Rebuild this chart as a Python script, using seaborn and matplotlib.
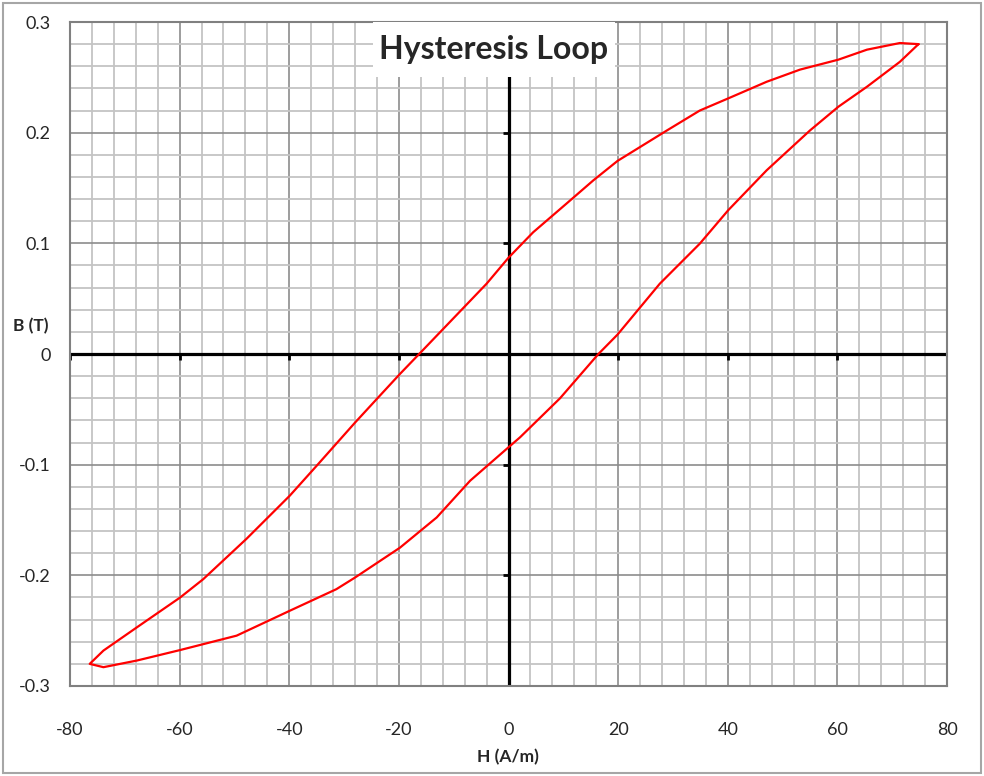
import matplotlib
matplotlib.use("Agg")
import matplotlib.pyplot as plt
import matplotlib.patches as patches
import numpy as np
import pandas as pd
import seaborn as sns

# upper branch: from the positive tip back to the negative tip
H_upper = [74.8, 71.4, 65.4, 60.2, 53.2, 47.1, 40.1, 34.9, 28.9, 19.9, 15.5, 10.6,
           4.5, 0.0, -4.0, -10.1, -16.3, -19.8, -24.0, -28.0, -35.0, -39.9, -47.8,
           -55.7, -59.9, -67.8, -73.9, -76.4]
B_upper = [0.280, 0.281, 0.275, 0.266, 0.257, 0.246, 0.231, 0.220, 0.202, 0.1745,
           0.157, 0.136, 0.110, 0.087, 0.0635, 0.032, 0.0, -0.018, -0.0405, -0.062,
           -0.101, -0.128, -0.167, -0.2035, -0.220, -0.247, -0.268, -0.280]

# lower branch: from the negative tip up to the positive tip
H_lower = [-76.4, -73.9, -67.8, -59.9, -49.6, -39.9, -31.4, -28.0, -19.8, -13.1,
           -7.0, 0.0, 2.1, 9.4, 16.4, 19.9, 27.6, 34.9, 40.1, 47.1, 55.0, 60.2,
           65.4, 71.4, 74.8]
B_lower = [-0.280, -0.283, -0.277, -0.2675, -0.2545, -0.232, -0.2125, -0.202,
           -0.175, -0.1477, -0.1145, -0.0843, -0.0753, -0.040, 0.0, 0.0176, 0.0635,
           0.0997, 0.130, 0.166, 0.202, 0.2235, 0.2415, 0.264, 0.280]

x_ticks = [-80, -60, -40, -20, 0, 20, 40, 60, 80]
x_labels = ["-80", "-60", "-40", "-20", "0", "20", "40", "60", "80"]
y_ticks = [-0.3, -0.2, -0.1, 0.0, 0.1, 0.2, 0.3]
y_labels = ["-0.3", "-0.2", "-0.1", "0", "0.1", "0.2", "0.3"]

loop = pd.DataFrame({"H": H_upper + H_lower[1:], "B": B_upper + B_lower[1:]})

sns.set_style("white")
plt.rcParams["font.family"] = ["Lato", "DejaVu Sans"]

fig = plt.figure(figsize=(9.84, 7.76), dpi=100)
ax = fig.add_axes([70 / 984, 90 / 776, 877 / 984, 664 / 776])

ax.set_xlim(-80, 80)
ax.set_ylim(-0.3, 0.3)
ax.set_xticks(x_ticks)
ax.set_xticklabels(x_labels)
ax.set_yticks(y_ticks)
ax.set_yticklabels(y_labels)
ax.set_xticks(np.arange(-80, 81, 4), minor=True)
ax.set_yticks(np.arange(-0.3, 0.301, 0.02), minor=True)
ax.grid(which="minor", color="#c4c4c4", lw=1.3, zorder=0)
ax.grid(which="major", color="#8c8c8c", lw=1.2, zorder=0)
ax.set_axisbelow(True)
ax.tick_params(which="both", length=0)
ax.tick_params(axis="y", pad=14, labelsize=13)
ax.tick_params(axis="x", pad=26, labelsize=13)
for s in ax.spines.values():
    s.set_color("#808080")
    s.set_linewidth(1.5)

# black axes through the origin with their little tick marks
ax.axhline(0, color="black", lw=2.3, zorder=2)
ax.axvline(0, color="black", lw=2.3, zorder=2)
ax.plot(x_ticks[:-1], [0] * (len(x_ticks) - 1), ls="none", marker=3,
        ms=4, mew=2, color="black", zorder=2)
ax.plot([0] * len(y_ticks[:-1]), y_ticks[:-1], ls="none", marker=0,
        ms=4, mew=2, color="black", zorder=2)

sns.lineplot(data=loop, x="H", y="B", sort=False, estimator=None,
             color="red", lw=1.6, ax=ax, zorder=3)
ax.set_xlabel("")
ax.set_ylabel("")

# title on its own white box, covering the grid
ax.add_patch(patches.Rectangle((0.3455, 0.917), 0.276, 0.083, transform=ax.transAxes,
                               facecolor="white", edgecolor="none", zorder=5))
ax.text(0.4835, 0.959, "Hysteresis Loop", transform=ax.transAxes, ha="center",
        va="center", fontsize=23, fontweight="bold", zorder=6)

fig.text(508 / 984, 19 / 776, "H (A/m)", ha="center", va="center", fontsize=12.5,
         fontweight="bold")
fig.text(31 / 984, (776 - 326) / 776, "B (T)", ha="center", va="center",
         fontsize=12.5, fontweight="bold")

fig.patches.append(patches.Rectangle((3 / 984, 3 / 776), 978 / 984, 770 / 776,
                                     transform=fig.transFigure, fill=False,
                                     edgecolor="#a6a6a6", lw=1.5))

fig.savefig("out.png", dpi=100)
